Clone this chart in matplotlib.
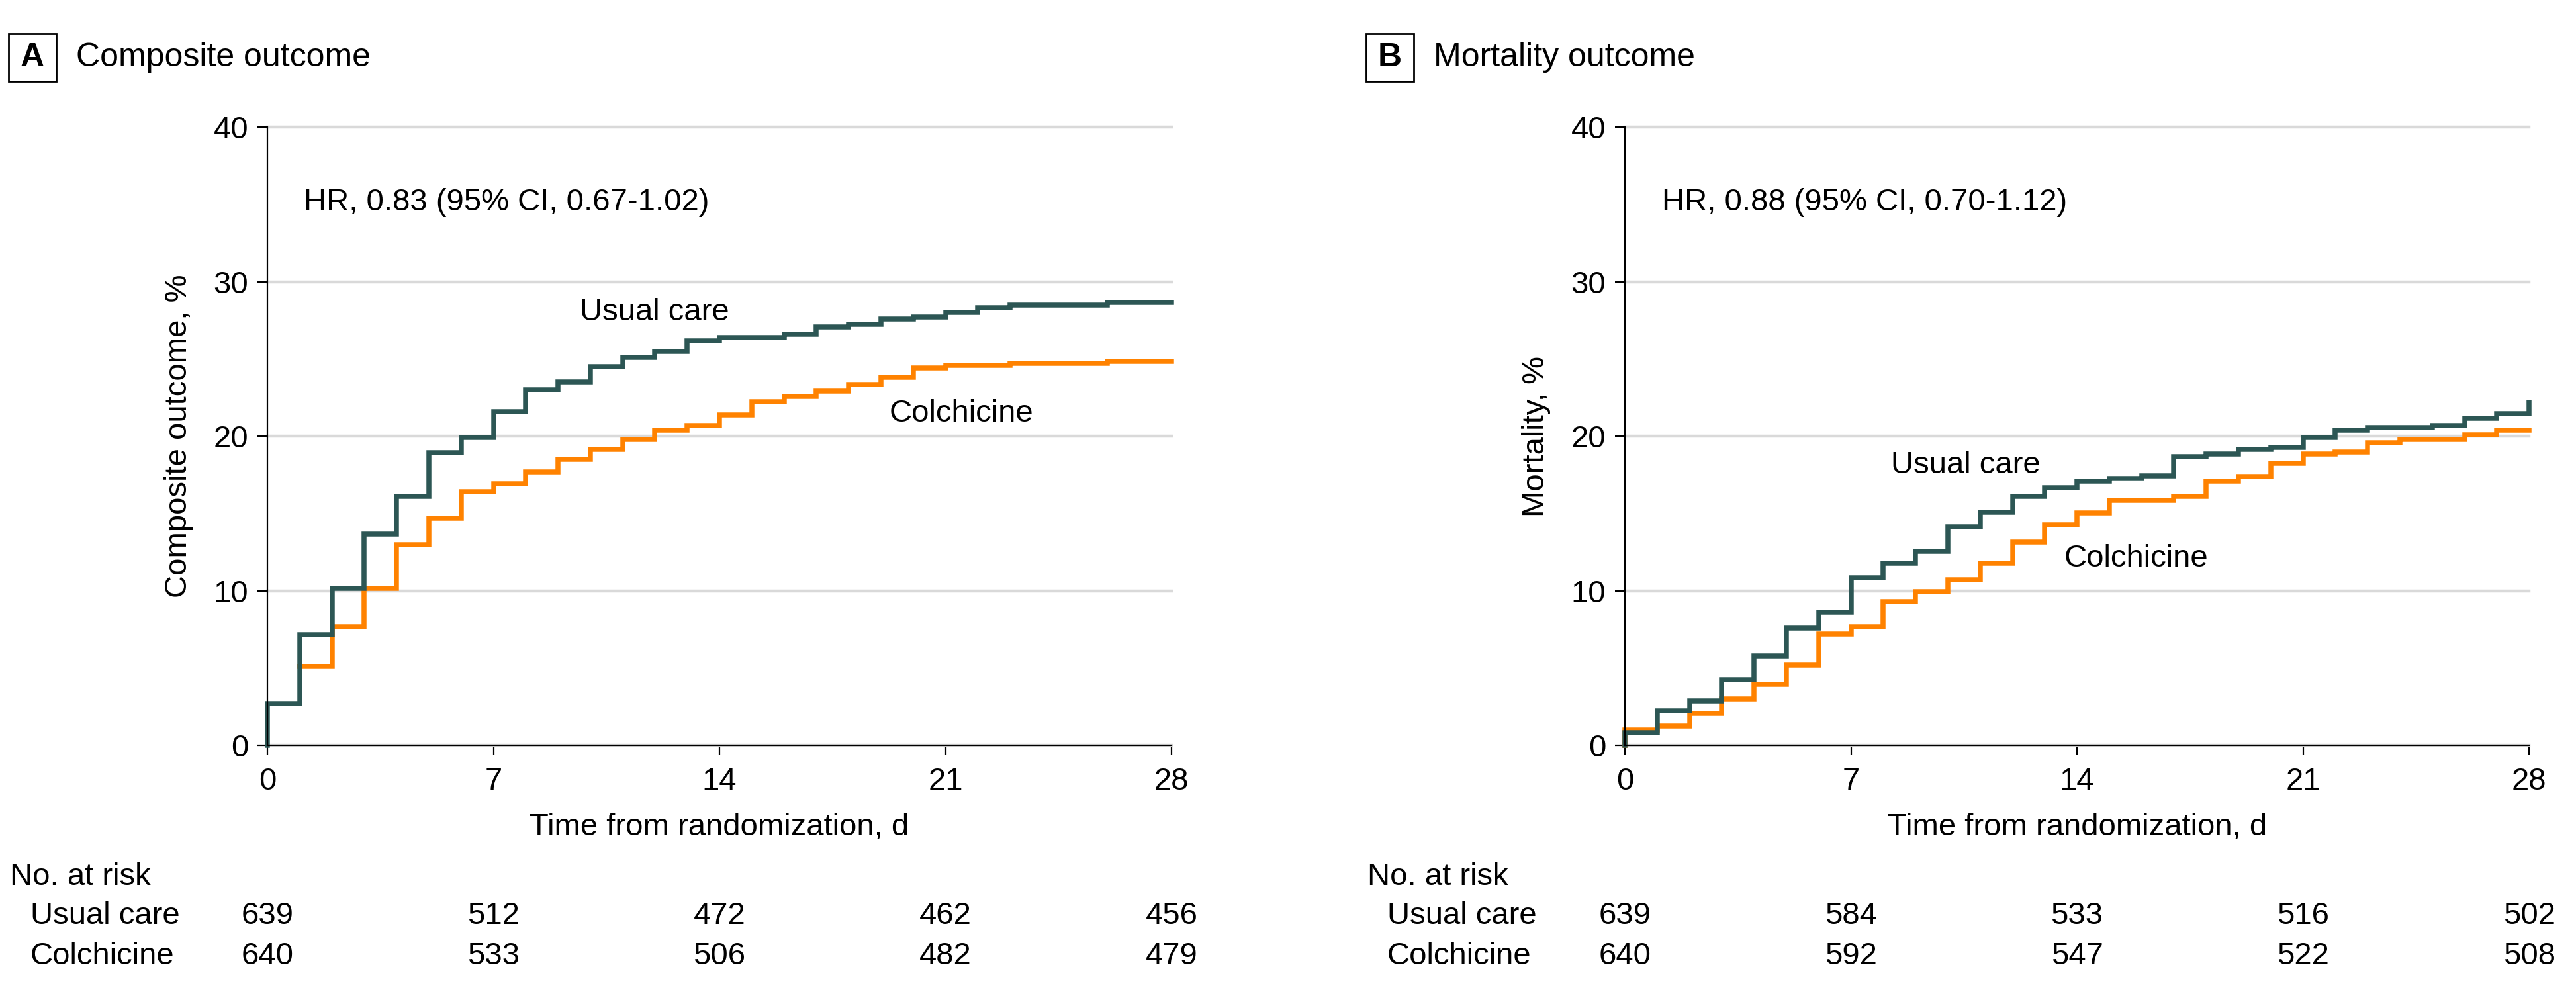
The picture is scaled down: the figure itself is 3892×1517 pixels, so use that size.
import numpy as np
import matplotlib
matplotlib.use('Agg')
import matplotlib.pyplot as plt
from matplotlib.patches import Rectangle

plt.rcParams['font.family'] = ['Liberation Sans', 'DejaVu Sans']

# ------------------------------------------------------------------------------
# data (cumulative %, value from that day on)
days = list(range(29))

composite_usual = [2.7, 7.16, 10.16, 13.66, 16.1, 18.93, 19.9, 21.6, 23.0, 23.5,
                   24.48, 25.1, 25.5, 26.17, 26.4, 26.4, 26.6, 27.05, 27.24,
                   27.57, 27.7, 28.0, 28.33, 28.5, 28.5, 28.5, 28.64, 28.64, 28.64]
composite_colch = [np.nan, 5.1, 7.65, 10.16, 12.98, 14.7, 16.4, 16.94, 17.7, 18.5,
                   19.13, 19.78, 20.38, 20.7, 21.37, 22.24, 22.57, 22.9, 23.33,
                   23.83, 24.43, 24.6, 24.6, 24.73, 24.73, 24.73, 24.86, 24.86, 24.86]
mortality_usual = [0.82, 2.24, 2.87, 4.23, 5.79, 7.57, 8.63, 10.85, 11.8, 12.57,
                   14.13, 15.08, 16.12, 16.67, 17.08, 17.27, 17.43, 18.66, 18.85,
                   19.13, 19.29, 19.92, 20.38, 20.55, 20.55, 20.7, 21.15, 21.48, 22.19]
mortality_colch = [1.0, 1.23, 2.05, 3.0, 3.96, 5.19, 7.21, 7.65, 9.29, 9.92,
                   10.71, 11.8, 13.17, 14.26, 15.03, 15.85, 15.85, 16.12, 17.08,
                   17.4, 18.25, 18.83, 18.99, 19.59, 19.78, 19.78, 20.08, 20.38, 20.38]

risk_days = [0, 7, 14, 21, 28]
composite_risk_usual = [639, 512, 472, 462, 456]
composite_risk_colch = [640, 533, 506, 482, 479]
mortality_risk_usual = [639, 584, 533, 516, 502]
mortality_risk_colch = [640, 592, 547, 522, 508]

panel_letters = ['A', 'B']
panel_titles = ['Composite outcome', 'Mortality outcome']
y_labels = ['Composite outcome, %', 'Mortality, %']
hr_texts = ['HR, 0.83 (95% CI, 0.67-1.02)', 'HR, 0.88 (95% CI, 0.70-1.12)']

TEAL = '#2c5654'
ORANGE = '#ff8200'
GRID = '#d9d9d9'
FS = 17

figure = plt.figure(figsize=(19.46, 7.585), dpi=200)

panels = [
    dict(left=0.1038, usual=composite_usual, colch=composite_colch,
         risk_u=composite_risk_usual, risk_c=composite_risk_colch,
         lab_u=(9.67, 28.0), lab_c=(19.25, 21.45), hr=(1.12, 35.1),
         box_x=13, row_x=(15, 46)),
    dict(left=0.6308, usual=mortality_usual, colch=mortality_colch,
         risk_u=mortality_risk_usual, risk_c=mortality_risk_colch,
         lab_u=(8.23, 18.1), lab_c=(13.6, 12.1), hr=(1.15, 35.1),
         box_x=2064, row_x=(2066, 2096)),
]

W, H = 3892.0, 1517.0

for i, p in enumerate(panels):
    ax = figure.add_axes([p['left'], 0.2577, 0.351, 0.6157])

    # curves (orange first, teal on top)
    for vals, col in ((p['colch'], ORANGE), (p['usual'], TEAL)):
        x = [0] + days
        y = [0] + vals
        if np.isnan(vals[0]):
            x, y = days, vals
        ax.plot(x, y, drawstyle='steps-post', color=col, lw=2.7,
                solid_joinstyle='miter', clip_on=False, zorder=3)

    ax.set_xlim(0, 28)
    ax.set_ylim(0, 40)
    ax.set_xticks(risk_days)
    ax.set_yticks([0, 10, 20, 30, 40])
    ax.yaxis.grid(True, color=GRID, lw=1.6)
    for gl in ax.yaxis.get_gridlines():
        gl.set_clip_on(False)
    ax.set_axisbelow(True)
    for s in ('top', 'right'):
        ax.spines[s].set_visible(False)
    for s in ('left', 'bottom'):
        ax.spines[s].set_linewidth(0.8)
        ax.spines[s].set_zorder(4)
    ax.tick_params(direction='out', length=5.4, width=0.8, labelsize=FS)
    ax.tick_params(axis='x', pad=6.5)
    ax.tick_params(axis='y', pad=5)

    ax.set_ylabel(y_labels[i], fontsize=FS)
    ax.yaxis.set_label_coords(-0.082, 0.5)
    ax.text(0.5, -0.133, 'Time from randomization, d', fontsize=FS,
            ha='center', va='center', transform=ax.transAxes)

    ax.text(p['hr'][0], p['hr'][1], hr_texts[i], fontsize=FS, va='center')
    ax.text(p['lab_u'][0], p['lab_u'][1], 'Usual care', fontsize=FS, va='center')
    ax.text(p['lab_c'][0], p['lab_c'][1], 'Colchicine', fontsize=FS, va='center')

    # number at risk
    tr = ax.get_xaxis_transform()
    for d, nu, nc in zip(risk_days, p['risk_u'], p['risk_c']):
        ax.text(d, -0.276, str(nu), fontsize=FS, ha='center', va='center',
                transform=tr, clip_on=False)
        ax.text(d, -0.3415, str(nc), fontsize=FS, ha='center', va='center',
                transform=tr, clip_on=False)
    figure.text(p['row_x'][0] / W, 1 - 1325 / H, 'No. at risk', fontsize=FS,
                ha='left', va='center')
    figure.text(p['row_x'][1] / W, 1 - 1384 / H, 'Usual care', fontsize=FS,
                ha='left', va='center')
    figure.text(p['row_x'][1] / W, 1 - 1445 / H, 'Colchicine', fontsize=FS,
                ha='left', va='center')

    # panel letter box and title
    bx = p['box_x']
    figure.patches.append(Rectangle((bx / W, 1 - 123 / H), 72 / W, 72 / H,
                                    transform=figure.transFigure, fill=False,
                                    ec='black', lw=1.0))
    figure.text((bx + 36) / W, 1 - 87 / H, panel_letters[i], fontsize=18,
                fontweight='bold', ha='center', va='center')
    figure.text((bx + 102) / W, 1 - 87 / H, panel_titles[i], fontsize=18,
                ha='left', va='center')

figure.savefig('out.png', dpi=200)
